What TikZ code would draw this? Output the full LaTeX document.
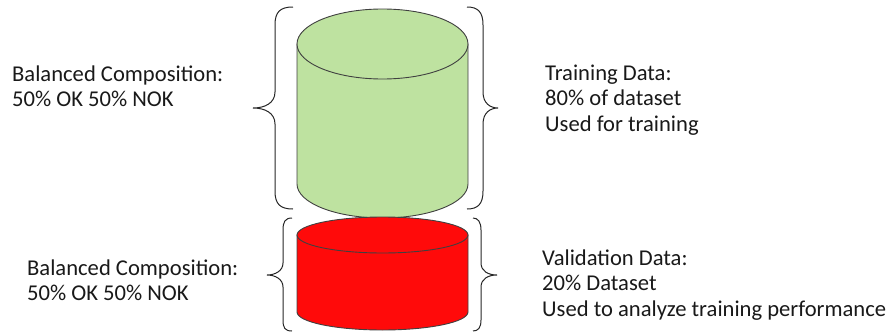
\documentclass[tikz,border=0pt]{standalone}
\usepackage{fontspec}
\setmainfont{Carlito}
\begin{document}
\begin{tikzpicture}[x=1pt,y=-1pt,
  txt/.style={anchor=base west,inner sep=0pt,font=\fontsize{22.6}{26}\selectfont,text=black!90},
  cyl/.style={draw=black!75,line width=0.9pt},
  brc/.style={draw=black!85,line width=1pt}]
\useasboundingbox (0,0) rectangle (895,332);
\definecolor{cgreen}{RGB}{190,226,160}
\definecolor{cred}{RGB}{255,10,10}
% green cylinder
\path[cyl,fill=cgreen] (297,44) -- (297,184) arc[start angle=180,end angle=360,x radius=85.5,y radius=-34] -- (468,44) -- cycle;
\path[cyl,fill=cgreen] (382.5,44) ellipse[x radius=85.5,y radius=35];
% red cylinder
\path[cyl,fill=cred] (297,235) -- (297,312) arc[start angle=180,end angle=360,x radius=85.5,y radius=-18] -- (468,235) -- cycle;
\path[cyl,fill=cred] (382.5,235) ellipse[x radius=85.5,y radius=18];
% braces
\draw[brc] (293,7) .. controls (280,7) and (275,12) .. (275,25) -- (275,92) .. controls (275,103) and (265,108) .. (253,108) .. controls (265,108) and (275,113) .. (275,124) -- (275,191) .. controls (275,204) and (280,209) .. (293,209);
\draw[brc] (467,7) .. controls (478,7) and (483,12) .. (483,25) -- (483,92) .. controls (483,103) and (490,108) .. (498,108) .. controls (490,108) and (483,113) .. (483,124) -- (483,191) .. controls (483,204) and (478,209) .. (467,209);
\draw[brc] (292,218) .. controls (285,218) and (283,222) .. (283,230) -- (283,263) .. controls (283,271) and (275,275) .. (267,275) .. controls (275,275) and (283,279) .. (283,287) -- (283,320) .. controls (283,328) and (285,331) .. (292,331);
\draw[brc] (473,218) .. controls (478,218) and (481,222) .. (481,230) -- (481,263) .. controls (481,271) and (488,275) .. (497,275) .. controls (488,275) and (481,279) .. (481,287) -- (481,320) .. controls (481,328) and (478,331) .. (473,331);
% texts
\node[txt] (l1a) at (12,81) {Balanced Composition:};
\node[txt] (l1b) at (12,106) {50\% OK 50\% NOK};
\node[txt] (r1a) at (545,80) {Training Data:};
\node[txt] (r1b) at (545,105) {80\% of dataset};
\node[txt] (r1c) at (545,131) {Used for training};
\node[txt] (l2a) at (27,275) {Balanced Composition:};
\node[txt] (l2b) at (27,300) {50\% OK 50\% NOK};
\node[txt] (r2a) at (542,265) {Validation Data:};
\node[txt] (r2b) at (542,290) {20\% Dataset};
\node[txt] (r2c) at (542,316) {Used to analyze training performance};
\end{tikzpicture}
\end{document}
